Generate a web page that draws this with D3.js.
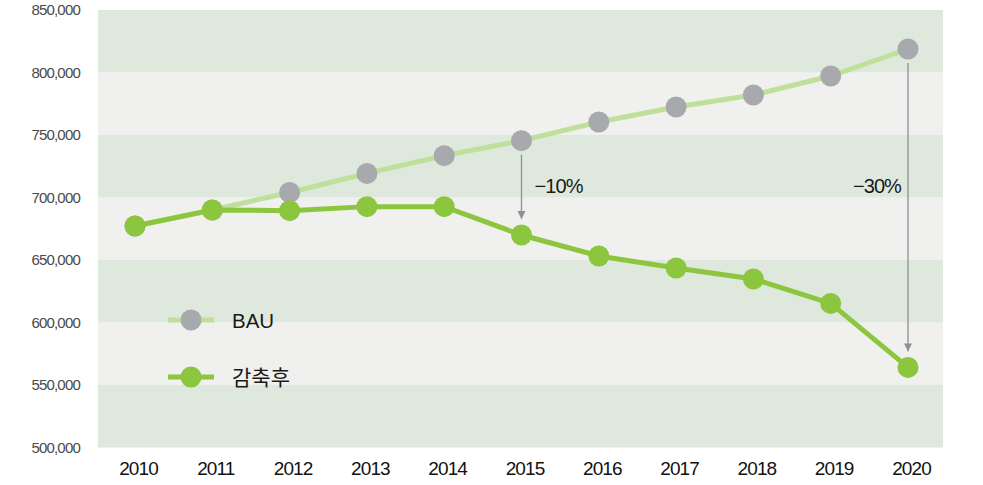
<!DOCTYPE html>
<html><head><meta charset="utf-8">
<script src="https://cdn.jsdelivr.net/npm/d3@7"></script>
<style>
html,body{margin:0;padding:0;background:#fff;}
svg{display:block;}
</style></head>
<body>
<svg id="c" width="983" height="485"></svg>
<script>
const years = ["2010","2011","2012","2013","2014","2015","2016","2017","2018","2019","2020"];
const bau = [677200,690000,704000,719300,733500,745500,760400,772400,782000,797200,818800];
const reduced = [677200,690000,689500,692700,692700,670000,653200,643600,634800,615300,564100];
const yTicks = [500000,550000,600000,650000,700000,750000,800000,850000];
const seriesNames = ["BAU","감축후"];
const annotations = [{year:"2015", label:"−10%"},{year:"2020", label:"−30%"}];

const svg = d3.select("#c");
const pL = 98, pR = 943, pT = 10, pB = 447.5;
const x = d3.scalePoint().domain(years).range([135, 908]);
const y = d3.scaleLinear().domain([500000, 850000]).range([pB, pT]);
const FONT = "'Liberation Sans', Arial, sans-serif";

// bands
const bands = d3.pairs(yTicks);
svg.append("g").selectAll("rect").data(bands).join("rect")
  .attr("x", pL).attr("width", pR-pL)
  .attr("y", d=>y(d[1])).attr("height", d=>y(d[0])-y(d[1]))
  .attr("fill", (d,i)=> i%2===0 ? "#dee8dd" : "#f0f0ee");

// y axis
const ya = svg.append("g").attr("transform", `translate(${pL-15},0)`)
  .call(d3.axisLeft(y).tickValues(yTicks).tickSize(0).tickFormat(d3.format(",")));
ya.select(".domain").remove();
ya.selectAll("text").attr("font-family",FONT)
  .attr("font-size",15).attr("fill","#4a4a4a").attr("letter-spacing","-0.8").attr("dy","0.32em");

// x axis
const xa = svg.append("g").attr("transform", `translate(3,${pB})`)
  .call(d3.axisBottom(x).tickSize(0).tickPadding(14));
xa.select(".domain").remove();
xa.selectAll("text").attr("font-family",FONT)
  .attr("font-size",19).attr("fill","#111").attr("letter-spacing","-0.9");

const line = d3.line().x((d,i)=>x(years[i])).y(d=>y(d));

// BAU
svg.append("path").datum(bau).attr("d", line).attr("fill","none")
  .attr("stroke","#bfe09b").attr("stroke-width",5);
svg.append("g").selectAll("circle").data(bau).join("circle")
  .attr("cx",(d,i)=>x(years[i])).attr("cy",d=>y(d)).attr("r",10.5).attr("fill","#a8a9ad");

// arrows
const defs = svg.append("defs");
defs.append("marker").attr("id","ah").attr("viewBox","0 0 10 10").attr("refX",10).attr("refY",5)
  .attr("markerWidth",8).attr("markerHeight",14).attr("markerUnits","userSpaceOnUse").attr("orient","auto")
  .append("path").attr("d","M0,0L10,5L0,10Z").attr("fill","#8e8f93");

annotations.forEach(a=>{
  const i = years.indexOf(a.year);
  const xx = x(a.year);
  svg.append("line").attr("x1",xx).attr("x2",xx)
    .attr("y1", y(bau[i]) + 14).attr("y2", y(reduced[i]) - 16)
    .attr("stroke","#8e8f93").attr("stroke-width",1.3).attr("marker-end","url(#ah)");
});
const a10 = annotations[0], a30 = annotations[1];
svg.append("text").attr("x", x(a10.year)+13).attr("y", y(700000)-5)
  .attr("font-family",FONT).attr("font-size",20).attr("fill","#1a1a1a")
  .attr("letter-spacing","-0.9").text(a10.label);
svg.append("text").attr("x", x(a30.year)-7).attr("y", y(700000)-5).attr("text-anchor","end")
  .attr("font-family",FONT).attr("font-size",20).attr("fill","#1a1a1a")
  .attr("letter-spacing","-0.9").text(a30.label);

// reduced
svg.append("path").datum(reduced).attr("d", line).attr("fill","none")
  .attr("stroke","#8cc63f").attr("stroke-width",5);
svg.append("g").selectAll("circle").data(reduced).join("circle")
  .attr("cx",(d,i)=>x(years[i])).attr("cy",d=>y(d)).attr("r",10.5).attr("fill","#8cc63f");

// legend
const legColors = [{line:"#bfe09b", dot:"#a8a9ad"},{line:"#8cc63f", dot:"#8cc63f"}];
const lg = svg.append("g");
seriesNames.forEach((n,i)=>{
  const ly = 320 + i*57;
  lg.append("line").attr("x1",168).attr("x2",214).attr("y1",ly).attr("y2",ly)
    .attr("stroke",legColors[i].line).attr("stroke-width",5);
  lg.append("circle").attr("cx",191).attr("cy",ly).attr("r",10.5).attr("fill",legColors[i].dot);
  lg.append("text").attr("x",232).attr("y",ly+7.5)
    .attr("font-family", i===0 ? FONT : "'Noto Sans CJK KR', sans-serif")
    .attr("font-size",i===0 ? 20.5 : 21).attr("fill","#1a1a1a").text(n);
});
</script>
</body></html>
